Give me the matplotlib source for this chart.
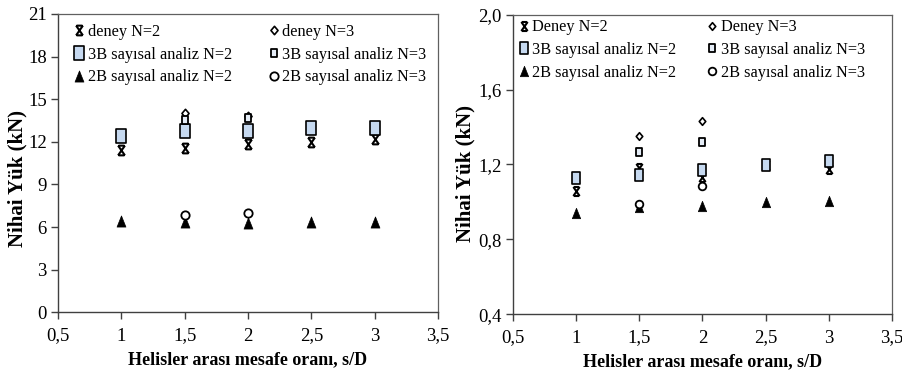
import matplotlib
matplotlib.use("Agg")
import matplotlib.pyplot as plt
from matplotlib.path import Path
from matplotlib.ticker import FuncFormatter, MultipleLocator

# s/D values
s_d = [1, 1.5, 2, 2.5, 3]
s_d_n3 = [1.5, 2]

# Left panel (kN)
a_deney_n2 = [11.46, 11.57, 11.84, 12.02, 12.17]
a_deney_n3 = [14.04, 13.80]
a_3b_n2 = [12.40, 12.75, 12.75, 12.98, 12.98]
a_3b_n3 = [13.57, 13.66]
a_2b_n2 = [6.42, 6.37, 6.26, 6.35, 6.35]
a_2b_n3 = [6.82, 7.00]

# Right panel (kN)
b_deney_n2 = [1.058, 1.183, 1.135, 1.195, 1.174]
b_deney_n3 = [1.352, 1.432]
b_3b_n2 = [1.129, 1.144, 1.170, 1.197, 1.218]
b_3b_n3 = [1.268, 1.318]
b_2b_n2 = [0.939, 0.975, 0.980, 0.998, 1.007]
b_2b_n3 = [0.990, 1.087]

labels_a = ["deney N=2", "deney N=3", "3B sayısal analiz N=2",
            "3B sayısal analiz N=3", "2B sayısal analiz N=2", "2B sayısal analiz N=3"]
labels_b = ["Deney N=2", "Deney N=3", "3B sayısal analiz N=2",
            "3B sayısal analiz N=3", "2B sayısal analiz N=2", "2B sayısal analiz N=3"]

plt.rcParams["font.family"] = ["Liberation Serif", "DejaVu Serif"]

# custom markers (slightly narrow shapes)
M, L = Path.MOVETO, Path.LINETO
star = Path([(-0.7, -1), (0.7, 1), (0.7, -1), (-0.7, 1),
             (-0.6, 1), (0.6, 1), (-0.6, -1), (0.6, -1)],
            [M, L, M, L, M, L, M, L])
rect = Path([(-0.75, -1), (0.75, -1), (0.75, 1), (-0.75, 1), (-0.75, -1)],
            [M, L, L, L, Path.CLOSEPOLY])
diam = Path([(0, -1), (0.85, 0), (0, 1), (-0.85, 0), (0, -1)],
            [M, L, L, L, Path.CLOSEPOLY])
tri = Path([(-0.8, -1), (0.8, -1), (0, 1), (-0.8, -1)], [M, L, L, Path.CLOSEPOLY])

BLUE = "#c6d9f0"


def xfmt(v, _):
    s = f"{v:.1f}".replace(".", ",")
    return s[:-2] if v == int(v) else s


def draw(ax, series, labels, big, small, ylim, ystep, yfmt,
         leg_x, leg_y, colsp, ylab_xy):
    dn2, dn3, b3n2, b3n3, b2n2, b2n3 = series
    h = {}
    h[0], = ax.plot(s_d, dn2, ls="none", marker=star, ms=small + 1, mfc="none",
                    mec="black", mew=1.5)
    h[1], = ax.plot(s_d_n3, dn3, ls="none", marker=diam, ms=small, mfc="white",
                    mec="black", mew=1.2)
    h[2], = ax.plot(s_d, b3n2, ls="none", marker=rect, ms=big, mfc=BLUE,
                    mec="black", mew=1.2)
    h[3], = ax.plot(s_d_n3, b3n3, ls="none", marker=rect, ms=small, mfc="#e4ecf6",
                    mec="black", mew=1.3)
    h[4], = ax.plot(s_d, b2n2, ls="none", marker=tri, ms=small + 2, mfc="black",
                    mec="black", mew=0.5)
    h[5], = ax.plot(s_d_n3, b2n3, ls="none", marker="o", ms=small, mfc="white",
                    mec="black", mew=1.3)
    order = [0, 2, 4, 1, 3, 5]
    ax.legend([h[i] for i in order], [labels[i] for i in order], ncol=2,
              loc="upper left", bbox_to_anchor=(leg_x, leg_y), frameon=False,
              fontsize=11.7, handlelength=0.5, handletextpad=0.25,
              columnspacing=colsp, labelspacing=0.42, borderaxespad=0.2)
    ax.set_xlim(0.5, 3.5)
    ax.set_ylim(*ylim)
    ax.xaxis.set_major_locator(MultipleLocator(0.5))
    ax.yaxis.set_major_locator(MultipleLocator(ystep))
    ax.xaxis.set_major_formatter(FuncFormatter(xfmt))
    ax.yaxis.set_major_formatter(FuncFormatter(yfmt))
    ax.tick_params(direction="out", length=5, width=1, labelsize=13.5,
                   top=False, right=False, pad=3, color="#404040")
    ax.tick_params(axis="x", pad=6)
    for side in ["left", "bottom"]:
        ax.spines[side].set_color("#404040")
        ax.spines[side].set_linewidth(1.0)
    for side in ["top", "right"]:
        ax.spines[side].set_color("#606060")
        ax.spines[side].set_linewidth(0.9)
    ax.set_xlabel("Helisler arası mesafe oranı, s/D", fontsize=13,
                  fontweight="bold", labelpad=5)
    ax.set_ylabel("Nihai Yük (kN)", fontsize=15, fontweight="bold")
    ax.yaxis.set_label_coords(*ylab_xy)


fig = plt.figure(figsize=(9.02, 3.76), dpi=100)
ax1 = fig.add_axes([0.0643, 0.1694, 0.4213, 0.7934])
ax2 = fig.add_axes([0.5687, 0.1641, 0.4202, 0.7969])

draw(ax1, [a_deney_n2, a_deney_n3, a_3b_n2, a_3b_n3, a_2b_n2, a_2b_n3], labels_a,
     9.5, 6, (0, 21), 3, lambda v, _: f"{int(round(v))}",
     0.02, 1.0, 2.34, (-0.08, 0.45))
draw(ax2, [b_deney_n2, b_deney_n3, b_3b_n2, b_3b_n3, b_2b_n2, b_2b_n3], labels_b,
     8, 5.5, (0.4, 2.0), 0.4, lambda v, _: f"{v:.1f}".replace(".", ","),
     -0.007, 1.017, 1.97, (-0.098, 0.47))

fig.savefig("out.png", dpi=100)
